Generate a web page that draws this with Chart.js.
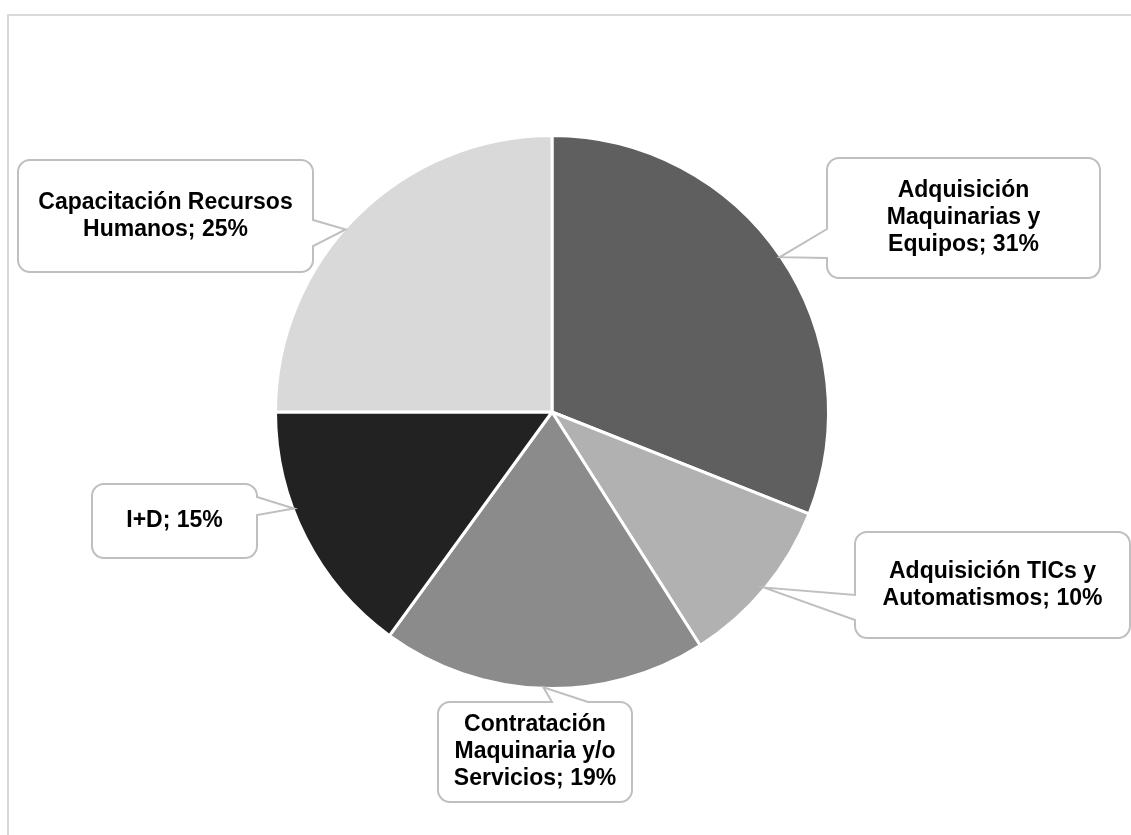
<!DOCTYPE html>
<html lang="es">
<head>
  <meta charset="UTF-8">
  <title>Distribución de inversiones</title>
  <script src="https://cdn.jsdelivr.net/npm/chart.js"></script>
  <style>
    html, body { margin: 0; padding: 0; background: #fff; }
    #wrap { position: relative; width: 1131px; height: 835px; overflow: hidden; }
    #frame { position: absolute; left: 7px; top: 14px; width: 1200px; height: 900px; border-left: 2px solid #d9d9d9; border-top: 2px solid #d9d9d9; }
    canvas { position: absolute; left: 0; top: 0; }
  </style>
</head>
<body>
  <div id="wrap">
    <div id="frame"></div>
    <canvas id="pie"></canvas>
  </div>

  <script>
    // data (clockwise from 12 o'clock)
    const categories = [
      ['Adquisición', 'Maquinarias y', 'Equipos'],
      ['Adquisición TICs y', 'Automatismos'],
      ['Contratación', 'Maquinaria y/o', 'Servicios'],
      ['I+D'],
      ['Capacitación Recursos', 'Humanos']
    ];
    const shares = [31, 10, 19, 15, 25];
    const sliceColors = ['#5f5f5f', '#b1b1b1', '#8b8b8b', '#222222', '#d9d9d9'];

    // callout boxes: box rect, side of the pointer, pointer base span, angle nudge (deg)
    const callouts = [
      { box: [827, 158, 1100, 278], side: 'left', base: [229, 258], nudge: 0 },
      { box: [855, 532, 1130, 638], side: 'left', base: [595, 620], nudge: 0 },
      { box: [438, 702, 632, 802], side: 'top', base: [552, 588], nudge: 0 },
      { box: [92, 484, 257, 558], side: 'right', base: [497, 515], nudge: 6.5 },
      { box: [18, 160, 313, 272], side: 'right', base: [220, 246], nudge: -3.5 }
    ];

    function calloutPath(ctx, c, tip) {
      const [x1, y1, x2, y2] = c.box;
      const r = 12;
      const [a, b] = c.base;
      ctx.beginPath();
      ctx.moveTo(x1 + r, y1);
      if (c.side === 'top') { ctx.lineTo(a, y1); ctx.lineTo(tip.x, tip.y); ctx.lineTo(b, y1); }
      ctx.lineTo(x2 - r, y1);
      ctx.arcTo(x2, y1, x2, y1 + r, r);
      if (c.side === 'right') { ctx.lineTo(x2, a); ctx.lineTo(tip.x, tip.y); ctx.lineTo(x2, b); }
      ctx.lineTo(x2, y2 - r);
      ctx.arcTo(x2, y2, x2 - r, y2, r);
      ctx.lineTo(x1 + r, y2);
      ctx.arcTo(x1, y2, x1, y2 - r, r);
      if (c.side === 'left') { ctx.lineTo(x1, b); ctx.lineTo(tip.x, tip.y); ctx.lineTo(x1, a); }
      ctx.lineTo(x1, y1 + r);
      ctx.arcTo(x1, y1, x1 + r, y1, r);
      ctx.closePath();
    }

    const calloutPlugin = {
      id: 'callouts',
      afterDatasetsDraw(chart) {
        const ctx = chart.ctx;
        const meta = chart.getDatasetMeta(0);
        meta.data.forEach((arc, i) => {
          const c = callouts[i];
          const p = arc.getProps(['x', 'y', 'startAngle', 'endAngle', 'outerRadius'], true);
          const ang = (p.startAngle + p.endAngle) / 2 + c.nudge * Math.PI / 180;
          const tip = { x: p.x + Math.cos(ang) * (p.outerRadius - 1), y: p.y + Math.sin(ang) * (p.outerRadius - 1) };
          ctx.save();
          calloutPath(ctx, c, tip);
          ctx.fillStyle = '#ffffff';
          ctx.fill();
          ctx.lineWidth = 2;
          ctx.strokeStyle = '#bfbfbf';
          ctx.stroke();

          const lines = categories[i].slice();
          lines[lines.length - 1] += '; ' + shares[i] + '%';
          ctx.fillStyle = '#000';
          ctx.font = 'bold 23px "Liberation Sans", Arial, sans-serif';
          ctx.textAlign = 'center';
          ctx.textBaseline = 'middle';
          const lh = 27;
          const cx = (c.box[0] + c.box[2]) / 2;
          const cy = (c.box[1] + c.box[3]) / 2;
          lines.forEach((t, k) => {
            ctx.fillText(t, cx, cy + (k - (lines.length - 1) / 2) * lh);
          });
          ctx.restore();
        });
      }
    };

    new Chart(document.getElementById('pie'), {
      type: 'pie',
      data: {
        labels: categories.map(l => l.join(' ')),
        datasets: [{
          data: shares,
          backgroundColor: sliceColors,
          borderColor: '#ffffff',
          borderWidth: 3
        }]
      },
      options: {
        responsive: true,
        maintainAspectRatio: false,
        animation: false,
        layout: { padding: { top: 134, bottom: 145, left: 274, right: 301 } },
        plugins: {
          legend: { display: false },
          tooltip: { enabled: false }
        }
      },
      plugins: [calloutPlugin]
    });
  </script>
</body>
</html>
